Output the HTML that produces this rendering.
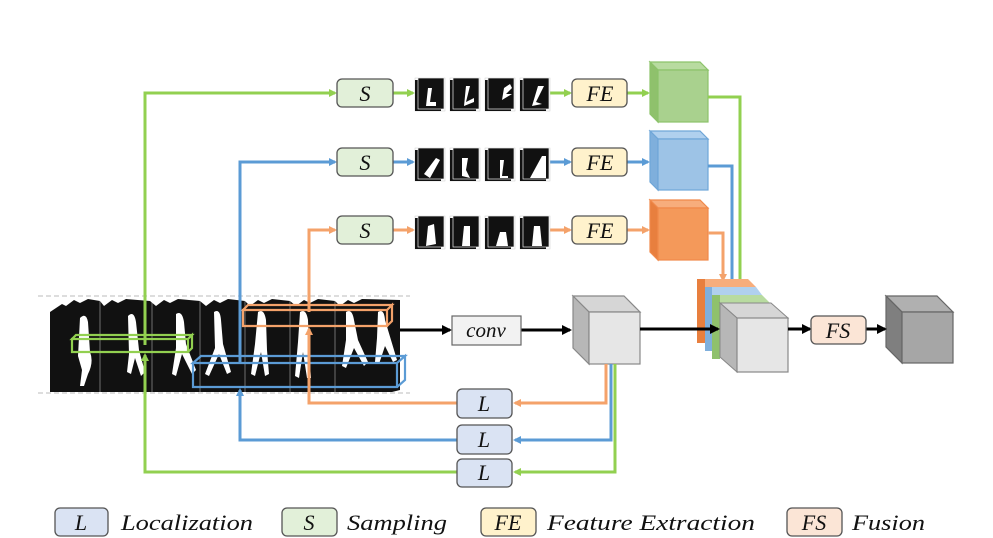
<!DOCTYPE html>
<html><head><meta charset="utf-8"><style>
html,body{margin:0;padding:0;background:#fff;}
svg{display:block;}
text{font-family:"Liberation Serif",serif;font-style:italic;}
</style></head><body>
<svg width="993" height="538" viewBox="0 0 993 538" xmlns="http://www.w3.org/2000/svg">
<defs>
<marker id="ag" markerWidth="8" markerHeight="8" refX="6" refY="4" orient="auto" markerUnits="userSpaceOnUse"><path d="M0,0 L8,4 L0,8 Z" fill="#92d050"/></marker>
<marker id="ab" markerWidth="8" markerHeight="8" refX="6" refY="4" orient="auto" markerUnits="userSpaceOnUse"><path d="M0,0 L8,4 L0,8 Z" fill="#5b9bd5"/></marker>
<marker id="ao" markerWidth="8" markerHeight="8" refX="6" refY="4" orient="auto" markerUnits="userSpaceOnUse"><path d="M0,0 L8,4 L0,8 Z" fill="#f4a26a"/></marker>
<marker id="ak" markerWidth="10" markerHeight="10" refX="8" refY="5" orient="auto" markerUnits="userSpaceOnUse"><path d="M0,0 L10,5 L0,10 Z" fill="#000"/></marker>
<g id="mini">
 <rect x="0" y="2" width="30" height="33" fill="#fff" stroke="#ccc" stroke-width="0.5"/>
 <rect x="0" y="4" width="26" height="31" fill="#111"/>
 <rect x="3" y="2" width="26" height="31" fill="#111" stroke="#eee" stroke-width="0.7"/>
</g>
</defs>

<line x1="38" y1="296" x2="410" y2="296" stroke="#bbb" stroke-dasharray="5,3"/>
<line x1="38" y1="393" x2="410" y2="393" stroke="#bbb" stroke-dasharray="5,3"/>

<g>
<polygon points="50,312 62,304 66,306 74,300 80,303 88,299 100,301 104,306 112,300 118,303 126,299 150,301 156,306 164,300 170,303 178,299 200,301 206,306 214,300 220,303 228,299 245,301 250,306 258,300 264,303 272,299 290,301 296,306 304,300 310,303 318,299 335,301 340,306 348,300 354,303 362,299 400,300 400,390 392,392 50,392" fill="#111"/>
<g fill="#fff">
<path d="M80,318 q6,-6 8,4 l2,30 q4,10 -2,22 l-4,12 l-4,0 l2,-16 l-4,-14 z"/>
<path d="M128,316 q6,-6 8,6 l3,28 l6,22 l-4,4 l-6,-18 l-4,16 l-4,-2 l2,-18 z"/>
<path d="M176,314 q6,-4 8,8 l2,22 l10,26 l-4,4 l-10,-20 l-6,22 l-4,-2 l4,-26 z"/>
<path d="M214,312 q6,-4 7,8 l2,24 l8,28 l-4,2 l-8,-20 l-10,22 l-4,-2 l10,-26 z"/>
<path d="M258,312 q6,-4 8,8 l1,30 l2,24 l-4,2 l-4,-24 l-6,24 l-4,-2 l4,-30 z"/>
<path d="M300,312 q6,-4 8,8 l1,30 l2,28 l-4,0 l-4,-26 l-4,26 l-4,-2 l3,-34 z"/>
<path d="M346,312 q6,-4 8,8 l4,20 l10,22 l-4,4 l-10,-18 l-8,20 l-4,-2 l4,-26 z"/>
<path d="M378,312 q6,-4 7,8 l6,20 l6,20 l-4,2 l-8,-16 l-6,18 l-4,-2 l2,-24 z"/>
</g>
<g stroke="#fff" stroke-width="1" opacity="0.4">
<line x1="100" y1="300" x2="100" y2="392"/><line x1="152" y1="300" x2="152" y2="392"/>
<line x1="200" y1="300" x2="200" y2="392"/><line x1="245" y1="300" x2="245" y2="392"/>
<line x1="290" y1="300" x2="290" y2="392"/><line x1="335" y1="300" x2="335" y2="392"/>
</g>
</g>

<g fill="none" stroke-width="2.2">
<path d="M72,339 l4,-4 h116 l-4,4 Z M72,339 h116 v13 h-116 Z M188,339 l4,-4 v13 l-4,4" stroke="#92d050"/>
<path d="M243,310 l5,-5 h144 l-5,5 Z M243,310 h144 v16 h-144 Z M387,310 l5,-5 v16 l-5,5" stroke="#f4a26a"/>
<path d="M193,363 l8,-7 h204 l-8,7 Z M193,363 h204 v24 h-204 Z M397,363 l8,-7 v24 l-8,7" stroke="#5b9bd5"/>
</g>

<g fill="none" stroke-width="3">
<polyline points="145,345 145,93 335,93" stroke="#92d050" marker-end="url(#ag)"/>
<polyline points="240,362 240,162 335,162" stroke="#5b9bd5" marker-end="url(#ab)"/>
<polyline points="309,312 309,230 335,230" stroke="#f4a26a" marker-end="url(#ao)"/>
<line x1="393" y1="93" x2="413" y2="93" stroke="#92d050" marker-end="url(#ag)"/>
<line x1="393" y1="162" x2="413" y2="162" stroke="#5b9bd5" marker-end="url(#ab)"/>
<line x1="393" y1="230" x2="413" y2="230" stroke="#f4a26a" marker-end="url(#ao)"/>
<line x1="550" y1="93" x2="570" y2="93" stroke="#92d050" marker-end="url(#ag)"/>
<line x1="550" y1="162" x2="570" y2="162" stroke="#5b9bd5" marker-end="url(#ab)"/>
<line x1="550" y1="230" x2="570" y2="230" stroke="#f4a26a" marker-end="url(#ao)"/>
<line x1="627" y1="93" x2="648" y2="93" stroke="#92d050" marker-end="url(#ag)"/>
<line x1="627" y1="162" x2="648" y2="162" stroke="#5b9bd5" marker-end="url(#ab)"/>
<line x1="627" y1="230" x2="648" y2="230" stroke="#f4a26a" marker-end="url(#ao)"/>
</g>

<g>
<use href="#mini" x="415" y="76"/><use href="#mini" x="450" y="76"/><use href="#mini" x="485" y="76"/><use href="#mini" x="520" y="76"/>
<use href="#mini" x="415" y="146"/><use href="#mini" x="450" y="146"/><use href="#mini" x="485" y="146"/><use href="#mini" x="520" y="146"/>
<use href="#mini" x="415" y="214"/><use href="#mini" x="450" y="214"/><use href="#mini" x="485" y="214"/><use href="#mini" x="520" y="214"/>
<g fill="#fff">
<path d="M428,88 l4,0 l-2,14 l6,0 l0,4 l-10,0 z"/><path d="M466,86 l4,0 l-4,16 l8,-4 l0,4 l-10,4 z"/>
<path d="M504,88 l6,-4 l2,4 l-6,6 l6,0 l-10,6 z"/><path d="M538,86 l6,0 l-8,16 l6,2 l-10,2 z"/>
<path d="M424,174 l12,-16 l4,2 l-10,18 z"/><path d="M462,158 l6,0 l-2,12 l4,8 l-8,-2 z"/>
<path d="M500,160 l4,0 l-2,16 l6,0 l0,2 l-8,0 z"/><path d="M530,178 l12,-22 l4,0 l0,22 z"/>
<path d="M426,246 l2,-20 l6,-2 l2,20 z"/><path d="M462,246 l2,-20 l6,0 l0,20 z"/>
<path d="M496,246 l4,-14 l6,0 l2,14 z"/><path d="M532,246 l2,-20 l6,0 l2,20 z"/>
</g>
</g>

<g stroke="#555" stroke-width="1.3">
<rect x="337" y="79" width="56" height="28" rx="5" fill="#e2f0d9"/>
<rect x="337" y="148" width="56" height="28" rx="5" fill="#e2f0d9"/>
<rect x="337" y="216" width="56" height="28" rx="5" fill="#e2f0d9"/>
<rect x="572" y="79" width="55" height="28" rx="5" fill="#fff2cc"/>
<rect x="572" y="148" width="55" height="28" rx="5" fill="#fff2cc"/>
<rect x="572" y="216" width="55" height="28" rx="5" fill="#fff2cc"/>
</g>
<g font-size="22" text-anchor="middle" fill="#111">
<text x="365" y="101">S</text><text x="365" y="170">S</text><text x="365" y="238">S</text>
<text x="600" y="101">FE</text><text x="600" y="170">FE</text><text x="600" y="238">FE</text>
</g>

<g stroke-width="1.2">
<g stroke="#8cc36a"><polygon points="650,62 700,62 708,70 658,70" fill="#b8dba0"/><polygon points="650,62 658,70 658,122 650,114" fill="#8fc16c"/><rect x="658" y="70" width="50" height="52" fill="#a9d18e"/></g>
<g stroke="#6fa6d8"><polygon points="650,131 700,131 708,139 658,139" fill="#b0d0ee"/><polygon points="650,131 658,139 658,190 650,182" fill="#7fafdc"/><rect x="658" y="139" width="50" height="51" fill="#9dc3e6"/></g>
<g stroke="#f0894a"><polygon points="650,200 700,200 708,208 658,208" fill="#f7ad7c"/><polygon points="650,200 658,208 658,260 650,252" fill="#e87f3e"/><rect x="658" y="208" width="50" height="52" fill="#f4995a"/></g>
</g>

<g fill="none" stroke-width="3">
<polyline points="708,97 740,97 740,296" stroke="#92d050" marker-end="url(#ag)"/>
<polyline points="708,166 732,166 732,288" stroke="#5b9bd5" marker-end="url(#ab)"/>
<polyline points="708,233 723,233 723,280" stroke="#f4a26a" marker-end="url(#ao)"/>
</g>

<g>
<polygon points="697,279 748,279 756,287 705,287" fill="#f7ad7c"/><rect x="697" y="279" width="8" height="64" fill="#e87f3e"/>
<polygon points="705,287 756,287 762,295 712,295" fill="#b0d0ee"/><rect x="705" y="287" width="7" height="64" fill="#7fafdc"/>
<polygon points="712,295 762,295 770,303 720,303" fill="#b8dba0"/><rect x="712" y="295" width="8" height="64" fill="#8fc16c"/>
<polygon points="720,303 771,303 788,318 737,318" fill="#d6d6d6" stroke="#888"/>
<polygon points="720,303 737,318 737,372 720,357" fill="#b7b7b7" stroke="#888"/>
<rect x="737" y="318" width="51" height="54" fill="#e6e6e6" stroke="#888" stroke-width="1.2"/>
</g>

<g stroke="#888" stroke-width="1.2">
<polygon points="573,296 624,296 640,312 589,312" fill="#d6d6d6"/>
<polygon points="573,296 589,312 589,364 573,348" fill="#b7b7b7"/>
<rect x="589" y="312" width="51" height="52" fill="#e6e6e6"/>
</g>
<g stroke="#666" stroke-width="1.2">
<polygon points="886,296 937,296 953,312 902,312" fill="#b0b0b0"/>
<polygon points="886,296 902,312 902,363 886,347" fill="#7f7f7f"/>
<rect x="902" y="312" width="51" height="51" fill="#a6a6a6"/>
</g>

<g stroke="#000" stroke-width="3" fill="none">
<line x1="400" y1="330" x2="450" y2="330" marker-end="url(#ak)"/>
<line x1="521" y1="330" x2="570" y2="330" marker-end="url(#ak)"/>
<line x1="640" y1="329" x2="718" y2="329" marker-end="url(#ak)"/>
<line x1="788" y1="329" x2="810" y2="329" marker-end="url(#ak)"/>
<line x1="866" y1="329" x2="885" y2="329" marker-end="url(#ak)"/>
</g>
<rect x="452" y="316" width="69" height="29" fill="#f2f2f2" stroke="#666" stroke-width="1.2"/>
<text x="486" y="337" font-size="21" text-anchor="middle" fill="#111">conv</text>
<rect x="811" y="316" width="55" height="28" rx="5" fill="#fbe5d6" stroke="#555" stroke-width="1.3"/>
<text x="838" y="338" font-size="22" text-anchor="middle" fill="#111">FS</text>

<g fill="none" stroke-width="3">
<polyline points="606,364 606,403 515,403" stroke="#f4a26a" marker-end="url(#ao)"/>
<polyline points="611,364 611,440 515,440" stroke="#5b9bd5" marker-end="url(#ab)"/>
<polyline points="615,364 615,472 515,472" stroke="#92d050" marker-end="url(#ag)"/>
<polyline points="457,403 309,403 309,329" stroke="#f4a26a" marker-end="url(#ao)"/>
<polyline points="457,440 240,440 240,390" stroke="#5b9bd5" marker-end="url(#ab)"/>
<polyline points="457,472 145,472 145,355" stroke="#92d050" marker-end="url(#ag)"/>
</g>
<g stroke="#555" stroke-width="1.3" fill="#dae3f3">
<rect x="457" y="389" width="55" height="29" rx="5"/>
<rect x="457" y="425" width="55" height="29" rx="5"/>
<rect x="457" y="459" width="55" height="28" rx="5"/>
</g>
<g font-size="22" text-anchor="middle" fill="#111">
<text x="484" y="411">L</text><text x="484" y="447">L</text><text x="484" y="480">L</text>
</g>

<g stroke="#555" stroke-width="1.3">
<rect x="55" y="508" width="53" height="28" rx="5" fill="#dae3f3"/>
<rect x="282" y="508" width="55" height="28" rx="5" fill="#e2f0d9"/>
<rect x="481" y="508" width="55" height="28" rx="5" fill="#fff2cc"/>
<rect x="787" y="508" width="55" height="28" rx="5" fill="#fbe5d6"/>
</g>
<g font-size="22" fill="#111">
<text x="81" y="530" text-anchor="middle">L</text>
<text x="309" y="530" text-anchor="middle">S</text>
<text x="508" y="530" text-anchor="middle">FE</text>
<text x="814" y="530" text-anchor="middle">FS</text>
<text x="121" y="530" textLength="132" lengthAdjust="spacingAndGlyphs">Localization</text>
<text x="347" y="530" textLength="100" lengthAdjust="spacingAndGlyphs">Sampling</text>
<text x="547" y="530" textLength="208" lengthAdjust="spacingAndGlyphs">Feature Extraction</text>
<text x="852" y="530" textLength="73" lengthAdjust="spacingAndGlyphs">Fusion</text>
</g>
</svg>
</body></html>
